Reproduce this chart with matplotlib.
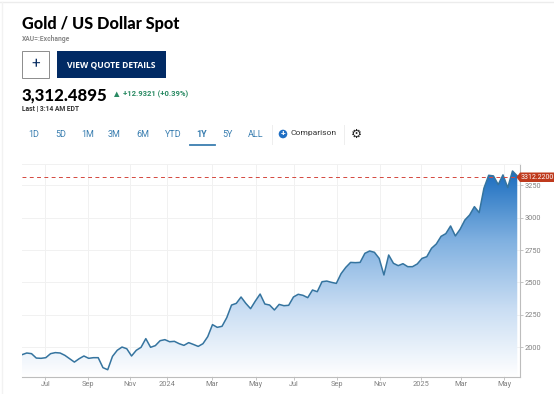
import numpy as np
import pandas as pd
import matplotlib
matplotlib.use("Agg")
import matplotlib.pyplot as plt
import matplotlib.dates as mdates
from matplotlib.colors import LinearSegmentedColormap
from matplotlib.patches import Rectangle, Polygon, Circle

# weekly closes
prices = [1943, 1956, 1951, 1917, 1915, 1920, 1951, 1959, 1956, 1938, 1912, 1886, 1912, 1933,
          1915, 1920, 1920, 1843, 1827, 1930, 1977, 2002, 1989, 1933, 1977, 2000, 2067, 2000,
          2013, 2051, 2059, 2043, 2046, 2028, 2015, 2036, 2022, 2007, 2028, 2082, 2175, 2154,
          2162, 2229, 2326, 2339, 2388, 2339, 2298, 2357, 2411, 2334, 2326, 2288, 2331,
          2321, 2324, 2388, 2409, 2401, 2383, 2442, 2429, 2506, 2511, 2501, 2493, 2568, 2617,
          2655, 2653, 2655, 2725, 2743, 2733, 2686, 2558, 2712, 2648, 2630, 2645, 2622, 2622,
          2643, 2686, 2699,
          2764, 2797, 2856, 2877, 2936, 2859, 2911, 2982, 3021, 3085, 3039, 3227, 3327, 3322,
          3255, 3330, 3232, 3360, 3322]
first_date = "2023-05-28"
last_date = "2025-05-20"
last_price = 3312.22
# the chart snaps its ticks to the nearest trading week
tick_dates = ["2023-07-01", "2023-09-01", "2023-11-01", "2023-12-26", "2024-03-01", "2024-05-03",
              "2024-06-28", "2024-08-30", "2024-11-01", "2024-12-30", "2025-02-27", "2025-05-01"]
tick_labels = ["Jul", "Sep", "Nov", "2024", "Mar", "May", "Jul", "Sep", "Nov", "2025", "Mar", "May"]
y_ticks = [2000, 2250, 2500, 2750, 3000, 3250]
ranges = ["1D", "5D", "1M", "3M", "6M", "YTD", "1Y", "5Y", "ALL"]
range_x = [34, 61, 87.5, 114.5, 142.5, 173, 201.5, 227.5, 256]

W, H = 554, 394
fig = plt.figure(figsize=(W / 100, H / 100), dpi=100, facecolor="white")
plt.rcParams["font.family"] = ["Roboto", "DejaVu Sans"]

# chart
L, R, T, B = 22, 520, 164, 376.6
ax = fig.add_axes([L / W, 1 - B / H, (R - L) / W, (B - T) / H])
dates = pd.date_range(first_date, last_date, periods=len(prices))
xs = mdates.date2num(dates)
x0 = mdates.date2num(pd.Timestamp("2023-05-28"))
x1 = mdates.date2num(pd.Timestamp("2025-05-24"))
y0, y1 = 1774, 3414

blues = LinearSegmentedColormap.from_list("fill", ["#ffffff", "#c9ddf3", "#7fb0e0", "#1a6dbf"])
grad = np.linspace(1, 0, 256).reshape(-1, 1)
im = ax.imshow(grad, cmap=blues, aspect="auto", extent=[xs[0], xs[-1], y0, max(prices)], zorder=2)
poly = Polygon(list(zip(xs, prices)) + [(xs[-1], y0), (xs[0], y0)], transform=ax.transData,
               facecolor="none", edgecolor="none")
ax.add_patch(poly)
im.set_clip_path(poly)
ax.plot(xs, prices, color="#35749f", lw=1.1, zorder=3)
ax.axhline(last_price, color="#d4483e", lw=0.7, dashes=(4, 3.5), zorder=4)

ax.set_xlim(x0, x1)
ax.set_ylim(y0, y1)
ax.set_xticks(mdates.date2num(pd.to_datetime(tick_dates)))
ax.set_xticklabels(tick_labels)
ax.yaxis.tick_right()
ax.set_yticks(y_ticks)
ax.grid(color="#f1f1f1", lw=0.7, zorder=0)
ax.tick_params(axis="both", labelsize=5.3, labelcolor="#808080", color="#bbbbbb", length=2, width=0.6, pad=1.5)
for side in ["top", "left"]:
    ax.spines[side].set_visible(False)
for side in ["right", "bottom"]:
    ax.spines[side].set_color("#bdbdbd")
    ax.spines[side].set_linewidth(0.8)

# page parts, drawn in pixel coordinates
ui = fig.add_axes([0, 0, 1, 1], zorder=5)
ui.set_xlim(0, W)
ui.set_ylim(H, 0)
ui.axis("off")
ui.patch.set_alpha(0)

ui.plot([0, W], [2, 2], color="#ececec", lw=1)
ui.plot([2, 2], [2, H], color="#f2f2f2", lw=1)
ui.plot([22, 520], [164, 164], color="#f1f1f1", lw=0.7)

ui.text(22, 23.5, "Gold / US Dollar Spot", fontsize=11.7, fontweight="black", family="Lato",
        color="#000000", va="center")
ui.text(22, 39, "XAU=:Exchange", fontsize=4.85, fontweight="bold", color="#8a8a8a", va="center")

ui.add_patch(Rectangle((22, 51), 27, 27, fc="white", ec="#8c8c8c", lw=0.7))
ui.text(35.5, 64, "+", fontsize=11, color="#0b2f63", ha="center", va="center")
ui.add_patch(Rectangle((56.5, 51), 109.5, 27, fc="#012a64", ec="none"))
ui.text(111, 64.5, "VIEW QUOTE DETAILS", fontsize=6.1, fontweight="bold", family="Open Sans", color="white",
        ha="center", va="center")

ui.text(22, 95, "3,312.4895", fontsize=12.1, fontweight="black", family="Lato", color="#000000", va="center")
ui.add_patch(Polygon([(114, 97), (119.5, 97), (116.7, 91.5)], fc="#2a8a63", ec="none"))
ui.text(123, 94.5, "+12.9321 (+0.39%)", fontsize=5.5, fontweight="bold", color="#2a8a63", va="center")
ui.text(22, 109, "Last | 3:14 AM EDT", fontsize=4.85, fontweight="bold", color="#333333", va="center")

for label, px in zip(ranges, range_x):
    weight = "bold" if label == "1Y" else "normal"
    ui.text(px, 134.5, label, fontsize=6.5, color="#3a7eb0", fontweight=weight, ha="center", va="center")
ui.plot([189.5, 214.5], [145, 145], color="#3a7eb0", lw=1.3)
ui.plot([271.5, 271.5], [125, 144], color="#eeeeee", lw=0.7)
ui.plot([343.5, 343.5], [125, 144], color="#eeeeee", lw=0.7)

ui.add_patch(Circle((283, 134), 4.3, fc="#1f6fc4", ec="none"))
ui.text(283, 133.8, "+", fontsize=6, fontweight="bold", color="white", ha="center", va="center")
ui.text(290.5, 133.5, "Comparison", fontsize=6.1, color="#333333", va="center")
ui.text(356.3, 134, "\u2699", fontsize=9, family="DejaVu Sans", color="#222222", ha="center", va="center")

# last price tag
ui.add_patch(Polygon([(516.5, 177.3), (520, 172.5), (554, 172.5), (554, 182), (520, 182)],
                     fc="#bf3a1d", ec="none"))
ui.text(521, 177.4, "3312.2200", fontsize=5, color="white", va="center")

fig.savefig("out.png", dpi=100)
